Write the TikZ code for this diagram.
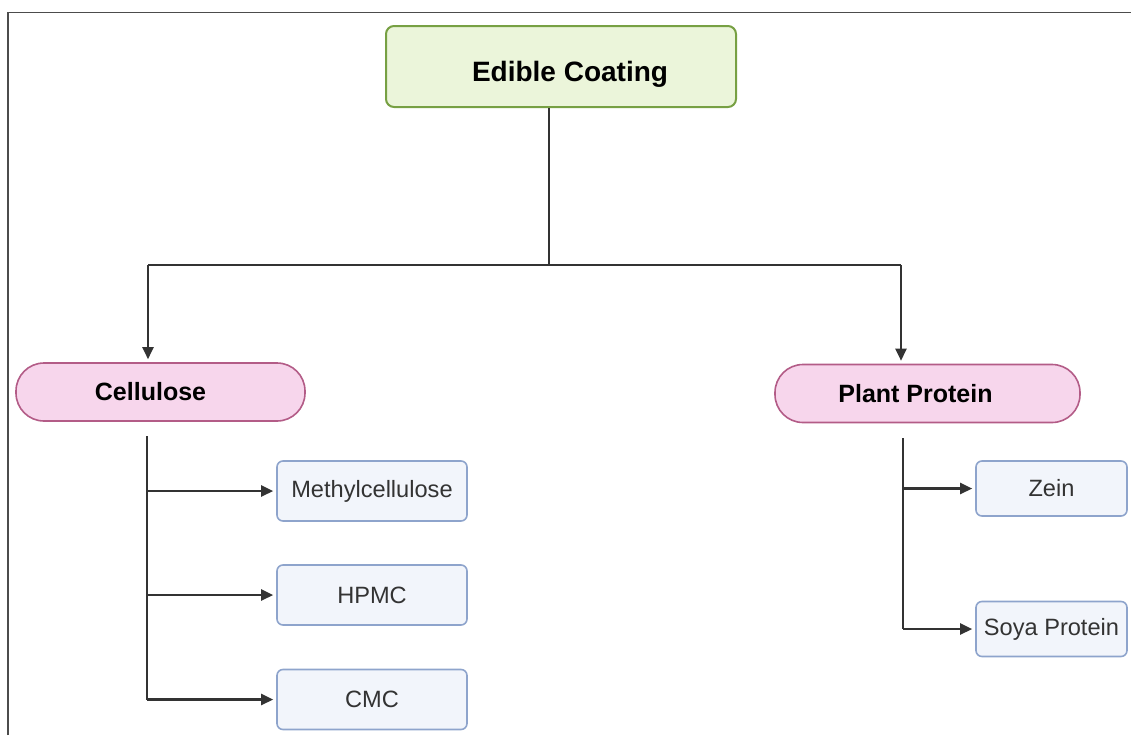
\documentclass[tikz,border=0pt]{standalone}
\usepackage{fontspec}
\setmainfont{Liberation Sans}
\usetikzlibrary{arrows.meta}
\definecolor{rootfill}{HTML}{EBF5DA}
\definecolor{rootline}{HTML}{77A043}
\definecolor{groupfill}{HTML}{F7D6EC}
\definecolor{groupline}{HTML}{B35C87}
\definecolor{itemfill}{HTML}{F2F5FB}
\definecolor{itemline}{HTML}{8EA4CC}
\definecolor{linkgray}{HTML}{333333}

\begin{document}
\begin{tikzpicture}[x=0.5pt, y=-0.5pt,
    rootbox/.style={draw=rootline, fill=rootfill, line width=1pt, rounded corners=4pt,
        minimum width=175pt, minimum height=40.5pt, inner sep=0pt, text height=18pt,
        font=\fontsize{14}{16}\selectfont\bfseries},
    groupbox/.style={draw=groupline, fill=groupfill, line width=0.8pt, rounded corners=14pt,
        minimum height=29pt, inner sep=0pt, font=\fontsize{12.5}{14}\selectfont\bfseries},
    itembox/.style={draw=itemline, fill=itemfill, line width=0.8pt, rounded corners=3pt,
        inner sep=0pt, text=linkgray, font=\fontsize{11.8}{13}\selectfont},
    link/.style={draw=linkgray, line width=1.2pt},
    arrow/.style={link, shorten >=1.5pt, -{Triangle[length=6pt, width=5.5pt]}}]
    \useasboundingbox (0,0) rectangle (1131,735);
    \draw [black!70, line width=0.9pt] (8,735) -- (8,12.5) -- (1131,12.5);
    % top level
    \node [rootbox] (coat) at (561,66.5) {\kern9pt Edible Coating};
    % groups
    \node [groupbox, minimum width=144.5pt] (cell) at (160.5,392) {Cellulose\kern10pt};
    \node [groupbox, minimum width=152.5pt] (plant) at (927.5,393.5) {Plant Protein\kern12pt};
    % items
    \node [itembox, minimum width=95pt, minimum height=30pt] (meth) at (372,491) {Methylcellulose};
    \node [itembox, minimum width=95pt, minimum height=30pt] (hpmc) at (372,595) {HPMC};
    \node [itembox, minimum width=95pt, minimum height=30pt] (cmc) at (372,699.5) {CMC};
    \node [itembox, minimum width=75.5pt, minimum height=27.5pt] (zein) at (1051.5,488.5) {Zein};
    \node [itembox, minimum width=75.5pt, minimum height=27.5pt] (soya) at (1051.5,629) {Soya Protein};
    % connectors
    \coordinate (stem) at (549,265);
    \coordinate (lj) at (148,265);
    \coordinate (rj) at (901,265);
    \coordinate (cb) at (147,436);
    \coordinate (pb) at (903,438);
    \draw [link] (stem |- coat.south) -- (stem);
    \draw [link] (lj) -- (rj);
    \draw [arrow] (lj) -- (lj |- cell.north);
    \draw [arrow] (rj) -- (rj |- plant.north);
    \draw [link] (cb) -- (cb |- cmc.west);
    \foreach \n in {meth, hpmc, cmc}
    \draw [arrow] (cb |- \n.west) -- (\n.west);
    \draw [link] (pb) -- (pb |- soya.west);
    \foreach \n in {zein, soya}
    \draw [arrow] (pb |- \n.west) -- (\n.west);
\end{tikzpicture}
\end{document}
